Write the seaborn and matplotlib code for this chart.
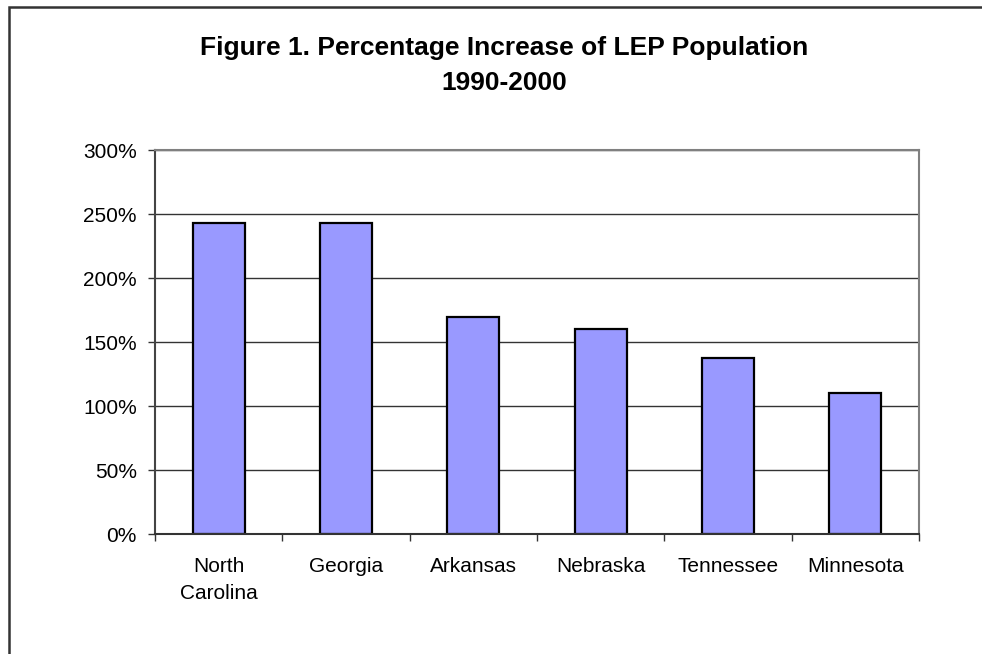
import matplotlib
matplotlib.use("Agg")
import matplotlib.pyplot as plt
import seaborn as sns
import pandas as pd
from matplotlib.ticker import FuncFormatter, FixedLocator
from matplotlib.patches import Rectangle

states = ["North\nCarolina", "Georgia", "Arkansas", "Nebraska", "Tennessee", "Minnesota"]
increase = [243, 243, 170, 160, 138, 110]
title_line1 = "Figure 1. Percentage Increase of LEP Population"
title_line2 = "1990-2000"
y_ticks = [0, 50, 100, 150, 200, 250, 300]

sns.set_theme(style="white")
plt.rcParams['font.family'] = ['Liberation Sans', 'DejaVu Sans']

df = pd.DataFrame({"state": states, "pct": increase})

fig = plt.figure(figsize=(9.82, 6.54), dpi=100)
fig.patch.set_facecolor("white")
ax = fig.add_axes([155 / 982, 1 - 534.3 / 654, (919 - 155) / 982, (534.3 - 150.3) / 654])

sns.barplot(data=df, x="state", y="pct", color="#9999FF", edgecolor="black",
            linewidth=1.6, width=0.41, saturation=1, ax=ax)

ax.set_xlim(-0.5, 5.5)
ax.set_ylim(0, 300)
ax.set_yticks(y_ticks)
ax.yaxis.set_major_formatter(FuncFormatter(lambda v, p: f"{int(v)}%"))
ax.grid(axis="y", color="#333333", linewidth=1.0)
ax.set_axisbelow(True)
ax.set_xlabel("")
ax.set_ylabel("")

ax.tick_params(axis="y", which="major", left=True, length=5, width=1, color="#333333",
               labelsize=15, pad=8, labelcolor="black")
ax.tick_params(axis="x", which="major", bottom=False, length=0, labelsize=15, pad=16.5,
               labelcolor="black")
for lab in ax.get_xticklabels():
    lab.set_linespacing(1.5)
ax.xaxis.set_minor_locator(FixedLocator([i - 0.5 for i in range(len(states) + 1)]))
ax.tick_params(axis="x", which="minor", bottom=True, direction="out", length=5, width=1,
               color="#333333")

for s in ["top", "right"]:
    ax.spines[s].set_color("#808080")
    ax.spines[s].set_linewidth(1.5)
ax.spines["left"].set_color("#444444")
ax.spines["left"].set_linewidth(1.5)
ax.spines["bottom"].set_color("#333333")
ax.spines["bottom"].set_linewidth(1.5)

title_x = 504 / 982
fig.text(title_x, 1 - 55 / 654, title_line1, ha="center", va="baseline", fontsize=19,
         fontweight="bold", color="black")
fig.text(title_x, 1 - 90 / 654, title_line2, ha="center", va="baseline", fontsize=19,
         fontweight="bold", color="black")

fig.patches.append(Rectangle((9 / 982, -0.05), 1.2, 1 - 7 / 654 + 0.05,
                             transform=fig.transFigure, fill=False,
                             edgecolor="#333333", linewidth=1.8))

fig.savefig("out.png", dpi=100)
